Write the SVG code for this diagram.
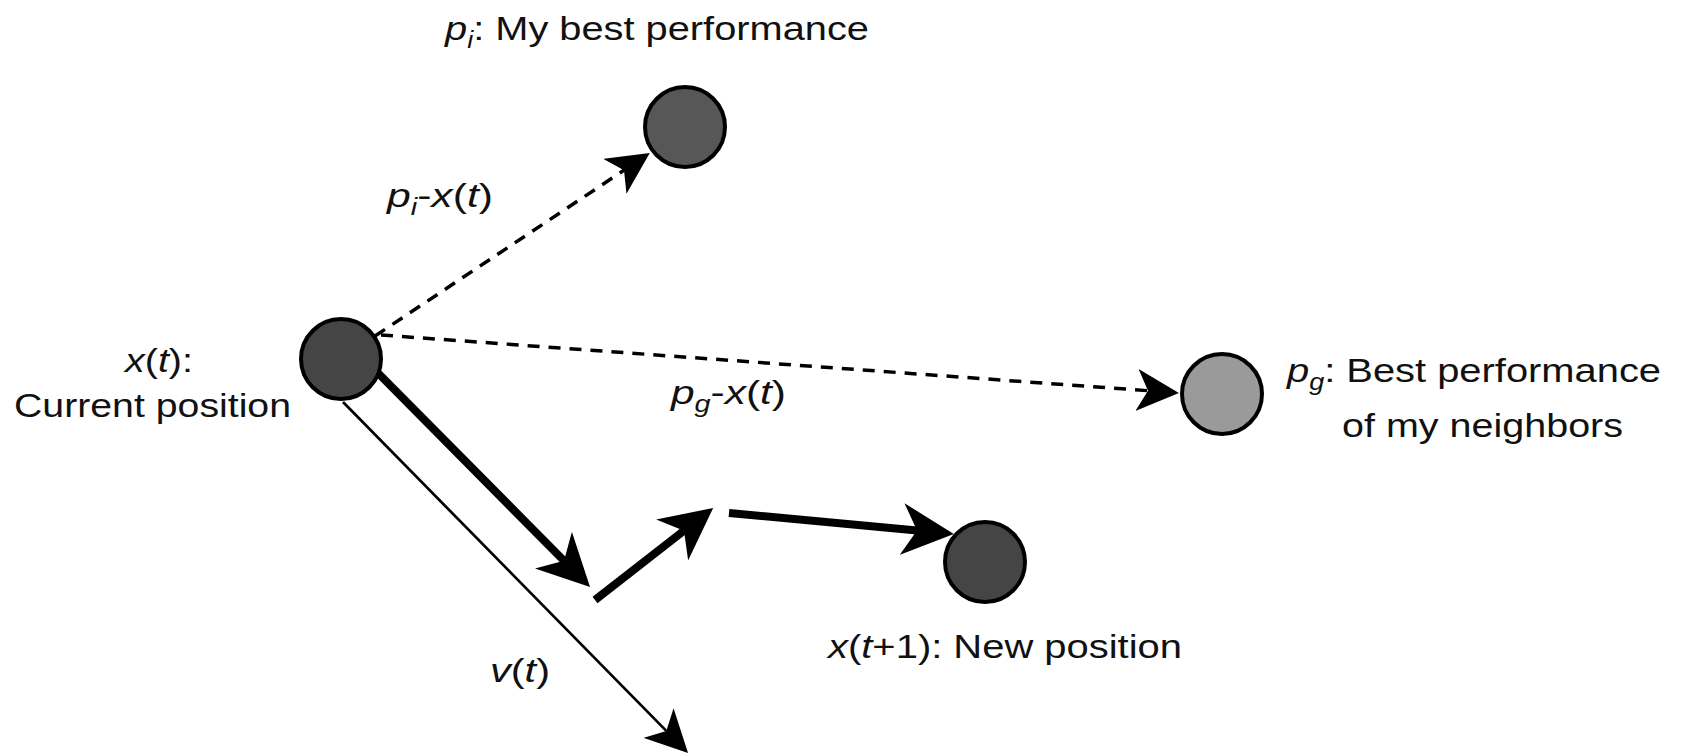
<svg xmlns="http://www.w3.org/2000/svg" width="1682" height="756" viewBox="0 0 1682 756">
<style>
  text { font-family: "Liberation Sans", Arial, sans-serif; font-size: 34px; fill: #111; }
  .it { font-style: italic; }
  .sub { font-size: 23px; font-style: italic; }
  .node { stroke: #000; stroke-width: 4; }
  .dash { stroke: #000; stroke-width: 3.5; fill: none; stroke-dasharray: 12 9; }
  .thick { stroke: #000; stroke-width: 8; fill: none; }
  .thin { stroke: #000; stroke-width: 2.7; fill: none; }
</style>
<defs>
  <marker id="ah" viewBox="0 0 42 42" refX="11" refY="21" markerWidth="42" markerHeight="42" markerUnits="userSpaceOnUse" orient="auto">
    <path d="M42,21 L0,0 L11,21 L0,42 Z" fill="#000"/>
  </marker>
  <marker id="ahBig" viewBox="0 0 52 52" refX="15" refY="26" markerWidth="52" markerHeight="52" markerUnits="userSpaceOnUse" orient="auto">
    <path d="M52,26 L0,0 L15,26 L0,52 Z" fill="#000"/>
  </marker>
</defs>

<g id="connectors">
  <line id="e-pi" class="dash" x1="375" y1="336" x2="624" y2="170.2" marker-end="url(#ah)"/>
  <line id="e-pg" class="dash" x1="381" y1="335" x2="1148" y2="390.7" marker-end="url(#ah)"/>
  <line id="e-v" class="thin" x1="343" y1="402" x2="666.3" y2="730.9" marker-end="url(#ah)"/>
  <line id="e-step1" class="thick" x1="377" y1="372" x2="564" y2="560.8" marker-end="url(#ahBig)"/>
  <line id="e-step2" class="thick" x1="595" y1="600" x2="684" y2="530.7" marker-end="url(#ahBig)"/>
  <line id="e-step3" class="thick" x1="729" y1="513" x2="917" y2="530.5" marker-end="url(#ahBig)"/>
</g>

<g id="node-pi">
  <circle class="node" cx="685" cy="127" r="40" fill="#575757"/>
  <text x="445" y="40" textLength="424" lengthAdjust="spacingAndGlyphs"><tspan class="it">p</tspan><tspan class="sub" dy="8">i</tspan><tspan dy="-8">: My best performance</tspan></text>
</g>

<g id="node-xt">
  <circle class="node" cx="341" cy="359" r="40" fill="#454545"/>
  <text x="125" y="372" textLength="68" lengthAdjust="spacingAndGlyphs"><tspan class="it">x</tspan>(<tspan class="it">t</tspan>):</text>
  <text x="14" y="417" textLength="277" lengthAdjust="spacingAndGlyphs">Current position</text>
</g>

<g id="node-pg">
  <circle class="node" cx="1222" cy="394" r="40" fill="#9a9a9a"/>
  <text x="1287" y="382" textLength="374" lengthAdjust="spacingAndGlyphs"><tspan class="it">p</tspan><tspan class="sub" dy="8">g</tspan><tspan dy="-8">: Best performance</tspan></text>
  <text x="1342" y="437" textLength="281" lengthAdjust="spacingAndGlyphs">of my neighbors</text>
</g>

<g id="node-xt1">
  <circle class="node" cx="985" cy="562" r="40" fill="#454545"/>
  <text x="828" y="658" textLength="354" lengthAdjust="spacingAndGlyphs"><tspan class="it">x</tspan>(<tspan class="it">t</tspan>+1): New position</text>
</g>

<g id="labels">
  <text x="387" y="207" textLength="106" lengthAdjust="spacingAndGlyphs"><tspan class="it">p</tspan><tspan class="sub" dy="8">i</tspan><tspan dy="-8">-</tspan><tspan class="it">x</tspan>(<tspan class="it">t</tspan>)</text>
  <text x="671" y="404" textLength="115" lengthAdjust="spacingAndGlyphs"><tspan class="it">p</tspan><tspan class="sub" dy="8">g</tspan><tspan dy="-8">-</tspan><tspan class="it">x</tspan>(<tspan class="it">t</tspan>)</text>
  <text x="490" y="682" textLength="60" lengthAdjust="spacingAndGlyphs"><tspan class="it">v</tspan>(<tspan class="it">t</tspan>)</text>
</g>
</svg>
